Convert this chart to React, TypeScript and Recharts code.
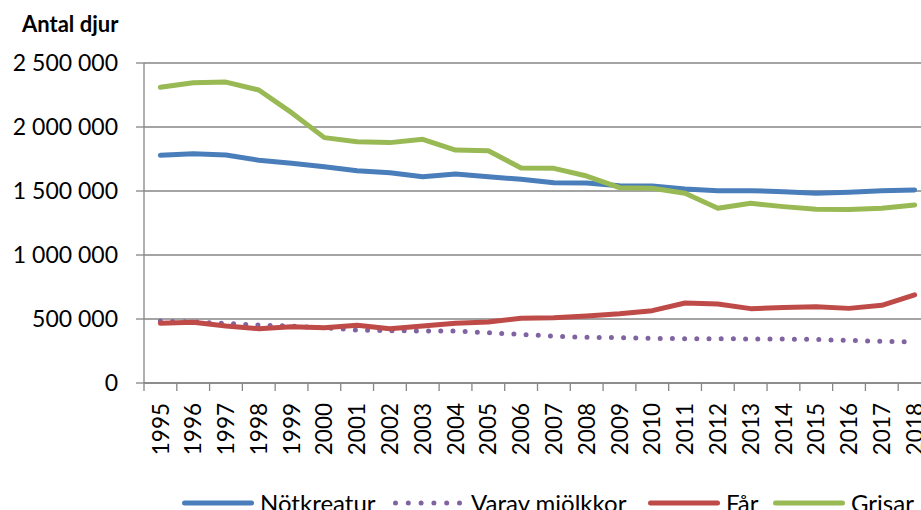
import React from 'react';
import { LineChart, Line, XAxis, YAxis, CartesianGrid, Legend } from 'recharts';

const years = [
  '1995', '1996', '1997', '1998', '1999', '2000', '2001', '2002', '2003', '2004', '2005', '2006',
  '2007', '2008', '2009', '2010', '2011', '2012', '2013', '2014', '2015', '2016', '2017', '2018',
];
const notkreatur = [
  1779000, 1791000, 1781000, 1740000, 1716000, 1690000, 1659000, 1643000, 1612000, 1633000, 1612000, 1591000,
  1565000, 1562000, 1541000, 1539000, 1516000, 1502000, 1502000, 1495000, 1482000, 1490000, 1502000, 1508000,
];
const mjolkkor = [
  484000, 477000, 465000, 453000, 444000, 432000, 414000, 409000, 406000, 406000, 393000, 380000,
  365000, 357000, 354000, 349000, 346000, 346000, 344000, 344000, 340000, 333000, 326000, 320000,
];
const far = [
  466000, 474000, 445000, 424000, 440000, 432000, 451000, 424000, 445000, 466000, 477000, 505000,
  510000, 523000, 541000, 565000, 625000, 617000, 581000, 589000, 596000, 583000, 607000, 688000,
];
const grisar = [
  2310000, 2346000, 2351000, 2289000, 2112000, 1917000, 1885000, 1878000, 1904000, 1820000, 1815000, 1680000,
  1677000, 1617000, 1526000, 1521000, 1482000, 1365000, 1404000, 1378000, 1357000, 1356000, 1365000, 1391000,
];
const yTicks = [0, 500000, 1000000, 1500000, 2000000, 2500000];

const series = [
  { key: 'notkreatur', name: 'Nötkreatur', color: '#4A7EBB', dotted: false },
  { key: 'mjolkkor', name: 'Varav mjölkkor', color: '#8064A2', dotted: true },
  { key: 'far', name: 'Får', color: '#BE4B48', dotted: false },
  { key: 'grisar', name: 'Grisar', color: '#98B954', dotted: false },
];

const data = years.map((year, i) => ({
  i,
  year,
  notkreatur: notkreatur[i],
  mjolkkor: mjolkkor[i],
  far: far[i],
  grisar: grisar[i],
}));

const W = 940;
const H = 510;
const MARGIN = { top: 63, right: 9, left: 0, bottom: 17 };
const Y_AXIS_W = 144;
const X_AXIS_H = 110;
const PLOT_BOTTOM = H - MARGIN.bottom - X_AXIS_H;
const HALF_BAND = (W - MARGIN.left - MARGIN.right - Y_AXIS_W) / years.length / 2;
const AXIS_COLOR = '#868686';
const FONT = 'Lato, "Open Sans", sans-serif';

const formatNumber = (v: number) => String(v).replace(/\B(?=(\d{3})+(?!\d))/g, ' ');

function YearTick(props: any) {
  const { x, payload } = props;
  const bx = x - HALF_BAND;
  return (
    <g>
      <line x1={bx} x2={bx} y1={PLOT_BOTTOM} y2={PLOT_BOTTOM + 8} stroke={AXIS_COLOR} strokeWidth={1.3} />
      <text
        transform={`translate(${x},${PLOT_BOTTOM + 20}) rotate(-90)`}
        textAnchor="end"
        dy="0.36em"
        fill="#000"
        fontSize={22.5}
      >
        {years[payload.value]}
      </text>
    </g>
  );
}

const legendWidths = [211, 255, 125, 150];

function LegendContent() {
  return (
    <div style={{ display: 'flex', alignItems: 'center', fontFamily: FONT, fontSize: 24, color: '#000' }}>
      {series.map((s, idx) => (
        <div key={s.key} style={{ display: 'flex', alignItems: 'center', width: legendWidths[idx] }}>
          <svg width={72} height={10}>
            <line
              x1={2.5}
              x2={69.5}
              y1={5}
              y2={5}
              stroke={s.color}
              strokeWidth={5}
              strokeLinecap="round"
              strokeDasharray={s.dotted ? '0 12.8' : undefined}
            />
          </svg>
          <span style={{ marginLeft: 6, whiteSpace: 'nowrap' }}>{s.name}</span>
        </div>
      ))}
    </div>
  );
}

export default function App() {
  return (
    <div
      style={{
        position: 'fixed',
        left: 0,
        top: 0,
        width: 921,
        height: 510,
        overflow: 'hidden',
        background: '#fff',
        fontFamily: FONT,
      }}
    >
      <div
        style={{
          position: 'absolute',
          left: 22,
          top: 10,
          fontSize: 22,
          fontWeight: 700,
          lineHeight: 'normal',
          color: '#000',
        }}
      >
        Antal djur
      </div>
      <LineChart width={W} height={H} data={data} margin={MARGIN}>
        <CartesianGrid vertical={false} stroke={AXIS_COLOR} strokeWidth={1.3} />
        <XAxis
          dataKey="i"
          type="number"
          domain={[-0.5, years.length - 0.5]}
          ticks={years.map((_, i) => i)}
          interval={0}
          height={X_AXIS_H}
          tickLine={false}
          axisLine={{ stroke: AXIS_COLOR, strokeWidth: 1.3 }}
          tick={<YearTick />}
        />
        <YAxis
          width={Y_AXIS_W}
          domain={[0, 2500000]}
          ticks={yTicks}
          interval={0}
          tickFormatter={formatNumber}
          tickSize={8}
          tickMargin={18}
          tickLine={{ stroke: AXIS_COLOR, strokeWidth: 1.3 }}
          axisLine={{ stroke: AXIS_COLOR, strokeWidth: 1.3 }}
          tick={{ fill: '#000', fontSize: 23 }}
        />
        <Legend
          layout="horizontal"
          verticalAlign="middle"
          align="center"
          wrapperStyle={{ top: 488, left: 182, width: 760 }}
          content={<LegendContent />}
        />
        {series.map((s) => (
          <Line
            key={s.key}
            dataKey={s.key}
            name={s.name}
            type="linear"
            stroke={s.color}
            strokeWidth={s.dotted ? 5 : 5}
            strokeLinecap="round"
            strokeLinejoin="round"
            strokeDasharray={s.dotted ? '0 12.2' : undefined}
            dot={false}
            activeDot={false}
            isAnimationActive={false}
          />
        ))}
      </LineChart>
    </div>
  );
}
